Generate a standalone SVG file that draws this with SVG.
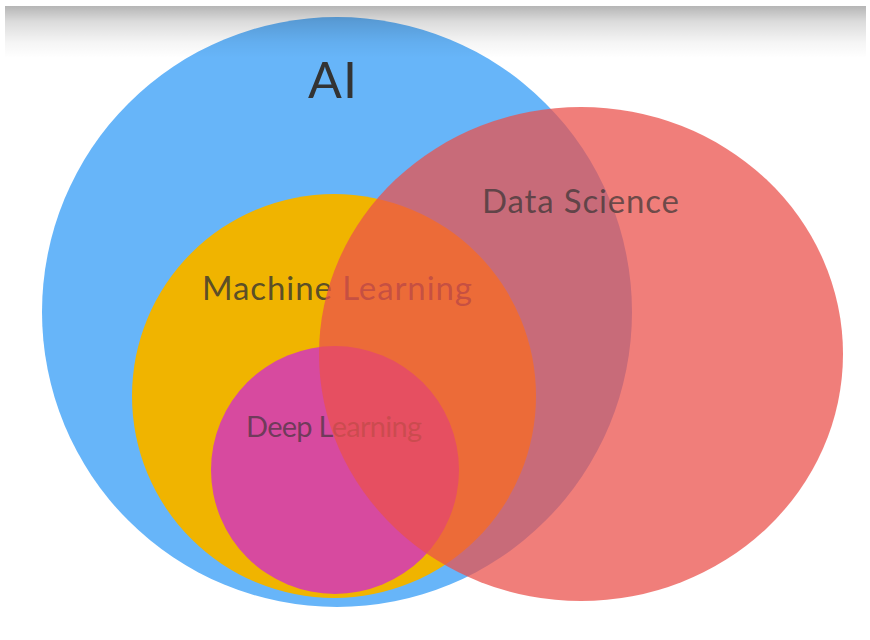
<svg xmlns="http://www.w3.org/2000/svg" width="870" height="640" viewBox="0 0 870 640">
<defs>
<linearGradient id="shade" x1="0" y1="0" x2="0" y2="1">
<stop offset="0" stop-color="#000" stop-opacity="0.29"/>
<stop offset="0.3" stop-color="#000" stop-opacity="0.14"/>
<stop offset="0.7" stop-color="#000" stop-opacity="0.04"/>
<stop offset="1" stop-color="#000" stop-opacity="0"/>
</linearGradient>
</defs>
<style>
.lbl{font-family:Lato,"Noto Sans","DejaVu Sans",sans-serif;fill:#333333}
</style>
<rect width="870" height="640" fill="#ffffff"/>
<g id="ai">
<circle cx="337" cy="312" r="295" fill="#67b5f9"/>
</g>
<g id="machine-learning">
<circle cx="334" cy="396" r="202" fill="#f0b400"/>
</g>
<g id="deep-learning">
<circle cx="335" cy="470" r="124" fill="#d74a9f"/>
</g>
<text class="lbl" x="308" y="98" font-size="50" textLength="49" lengthAdjust="spacing">AI</text>
<text class="lbl" x="202" y="300" font-size="33" textLength="270" lengthAdjust="spacing" fill-opacity="0.8">Machine Learning</text>
<text class="lbl" x="246" y="437" font-size="29" textLength="176" lengthAdjust="spacing" fill-opacity="0.65">Deep Learning</text>
<g id="data-science">
<ellipse cx="581" cy="354" rx="262" ry="247" fill="#eb514c" fill-opacity="0.74"/>
<text class="lbl" x="482" y="213" font-size="33" textLength="197" lengthAdjust="spacing" fill="#4a2a33" fill-opacity="0.7">Data Science</text>
</g>
<rect x="5" y="6" width="861" height="52" fill="url(#shade)"/>
</svg>
